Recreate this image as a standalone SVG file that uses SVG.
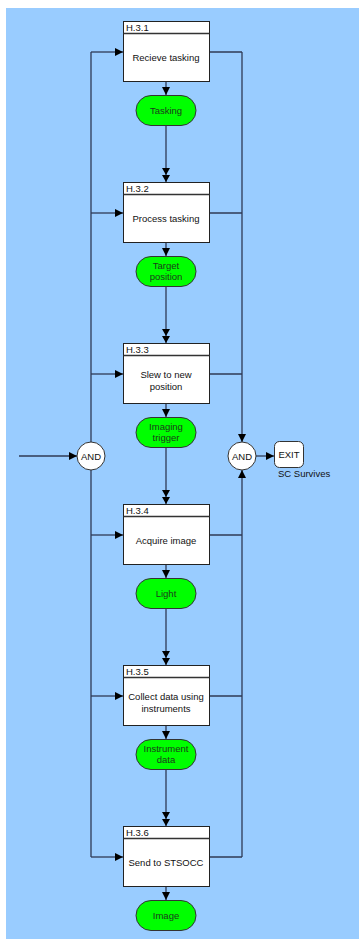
<svg xmlns="http://www.w3.org/2000/svg" width="359" height="939" viewBox="0 0 359 939">
  <style>
    text { font-family: "Liberation Sans", Arial, sans-serif; font-size: 9.5px; fill: #111; }
    .mid { text-anchor: middle; }
    .box { fill: #ffffff; stroke: #222; stroke-width: 1; }
    .hdr { stroke: #333; stroke-width: 1.5; fill: none; }
    .pill { fill: #00ff00; stroke: #333; stroke-width: 1; }
    .gate { fill: #ffffff; stroke: #333; stroke-width: 1; }
    .link { fill: none; stroke: #2f3a55; stroke-width: 1.3; }
    .ptxt { fill: #1c3a1c; }
  </style>
  <defs>
    <marker id="arrow" markerUnits="userSpaceOnUse" markerWidth="8" markerHeight="8" viewBox="0 0 8 8" refX="8" refY="4" orient="auto">
      <path d="M0,0 L8,4 L0,8 Z" fill="#000"/>
    </marker>
    <marker id="arrow2" markerUnits="userSpaceOnUse" markerWidth="14" markerHeight="8" viewBox="0 0 14 8" refX="14" refY="4" orient="auto">
      <path d="M0,0 L7,4 L0,8 Z M7,0 L14,4 L7,8 Z" fill="#000"/>
    </marker>
  </defs>

  <!-- canvas -->
  <rect x="6" y="8" width="353" height="931" fill="#99ccff"/>

  <!-- connectors -->
  <g id="connectors" class="link">
    <!-- incoming flow into the fork -->
    <path d="M19,456 H77" marker-end="url(#arrow)"/>
    <!-- fork bus on the left -->
    <path d="M91,52 V442"/>
    <path d="M91,470 V857"/>
    <path d="M91,52 H123" marker-end="url(#arrow)"/>
    <path d="M91,213 H123" marker-end="url(#arrow)"/>
    <path d="M91,374 H123" marker-end="url(#arrow)"/>
    <path d="M91,535 H123" marker-end="url(#arrow)"/>
    <path d="M91,696 H123" marker-end="url(#arrow)"/>
    <path d="M91,857 H123" marker-end="url(#arrow)"/>
    <!-- join bus on the right -->
    <path d="M209,52 H242"/>
    <path d="M209,213 H242"/>
    <path d="M209,374 H242"/>
    <path d="M209,535 H242"/>
    <path d="M209,696 H242"/>
    <path d="M209,857 H242"/>
    <path d="M242,52 V442" marker-end="url(#arrow)"/>
    <path d="M242,857 V470" marker-end="url(#arrow)"/>
    <path d="M256,456 H274" marker-end="url(#arrow)"/>
    <!-- function outputs -->
    <path d="M166,81 V95" marker-end="url(#arrow)"/>
    <path d="M166,242 V256" marker-end="url(#arrow)"/>
    <path d="M166,403 V417" marker-end="url(#arrow)"/>
    <path d="M166,564 V578" marker-end="url(#arrow)"/>
    <path d="M166,725 V739" marker-end="url(#arrow)"/>
    <path d="M166,886 V900" marker-end="url(#arrow)"/>
    <!-- items feeding the next function -->
    <path d="M166,125 V182" marker-end="url(#arrow2)"/>
    <path d="M166,286 V343" marker-end="url(#arrow2)"/>
    <path d="M166,447 V504" marker-end="url(#arrow2)"/>
    <path d="M166,608 V665" marker-end="url(#arrow2)"/>
    <path d="M166,769 V826" marker-end="url(#arrow2)"/>
  </g>

  <!-- functions -->
  <g id="H31">
    <rect class="box" x="123.5" y="21.5" width="86" height="60"/>
    <line class="hdr" x1="123.5" y1="33.5" x2="209.5" y2="33.5"/>
    <text x="126" y="31">H.3.1</text>
    <text class="mid" x="166" y="61">Recieve tasking</text>
  </g>
  <g id="H32">
    <rect class="box" x="123.5" y="182.5" width="86" height="60"/>
    <line class="hdr" x1="123.5" y1="194.5" x2="209.5" y2="194.5"/>
    <text x="126" y="192">H.3.2</text>
    <text class="mid" x="166" y="222">Process tasking</text>
  </g>
  <g id="H33">
    <rect class="box" x="123.5" y="343.5" width="86" height="60"/>
    <line class="hdr" x1="123.5" y1="355.5" x2="209.5" y2="355.5"/>
    <text x="126" y="353">H.3.3</text>
    <text class="mid" x="166" y="378">Slew to new</text>
    <text class="mid" x="166" y="390">position</text>
  </g>
  <g id="H34">
    <rect class="box" x="123.5" y="504.5" width="86" height="60"/>
    <line class="hdr" x1="123.5" y1="516.5" x2="209.5" y2="516.5"/>
    <text x="126" y="514">H.3.4</text>
    <text class="mid" x="166" y="544">Acquire image</text>
  </g>
  <g id="H35">
    <rect class="box" x="123.5" y="665.5" width="86" height="60"/>
    <line class="hdr" x1="123.5" y1="677.5" x2="209.5" y2="677.5"/>
    <text x="126" y="675">H.3.5</text>
    <text class="mid" x="166" y="700">Collect data using</text>
    <text class="mid" x="166" y="712">instruments</text>
  </g>
  <g id="H36">
    <rect class="box" x="123.5" y="826.5" width="86" height="60"/>
    <line class="hdr" x1="123.5" y1="838.5" x2="209.5" y2="838.5"/>
    <text x="126" y="836">H.3.6</text>
    <text class="mid" x="166" y="866">Send to STSOCC</text>
  </g>

  <!-- items -->
  <g id="tasking">
    <rect class="pill" x="136" y="95.5" width="60" height="30" rx="15"/>
    <text class="mid ptxt" x="166" y="114">Tasking</text>
  </g>
  <g id="target-position">
    <rect class="pill" x="136" y="256.5" width="60" height="30" rx="15"/>
    <text class="mid ptxt" x="166" y="269">Target</text>
    <text class="mid ptxt" x="166" y="280">position</text>
  </g>
  <g id="imaging-trigger">
    <rect class="pill" x="136" y="417.5" width="60" height="30" rx="15"/>
    <text class="mid ptxt" x="166" y="430">Imaging</text>
    <text class="mid ptxt" x="166" y="441">trigger</text>
  </g>
  <g id="light">
    <rect class="pill" x="136" y="578.5" width="60" height="30" rx="15"/>
    <text class="mid ptxt" x="166" y="597">Light</text>
  </g>
  <g id="instrument-data">
    <rect class="pill" x="136" y="739.5" width="60" height="30" rx="15"/>
    <text class="mid ptxt" x="166" y="752">Instrument</text>
    <text class="mid ptxt" x="166" y="763">data</text>
  </g>
  <g id="image">
    <rect class="pill" x="136" y="900.5" width="60" height="30" rx="15"/>
    <text class="mid ptxt" x="166" y="919">Image</text>
  </g>

  <!-- control gates -->
  <g id="and-fork">
    <circle class="gate" cx="91" cy="456" r="14"/>
    <text class="mid" x="91" y="459.5">AND</text>
  </g>
  <g id="and-join">
    <circle class="gate" cx="242" cy="456" r="14"/>
    <text class="mid" x="242" y="459.5">AND</text>
  </g>
  <g id="exit">
    <rect class="gate" x="274.5" y="441.5" width="29" height="26" rx="5"/>
    <text class="mid" x="289" y="458">EXIT</text>
    <text x="278" y="477" fill="#222">SC Survives</text>
  </g>
</svg>
